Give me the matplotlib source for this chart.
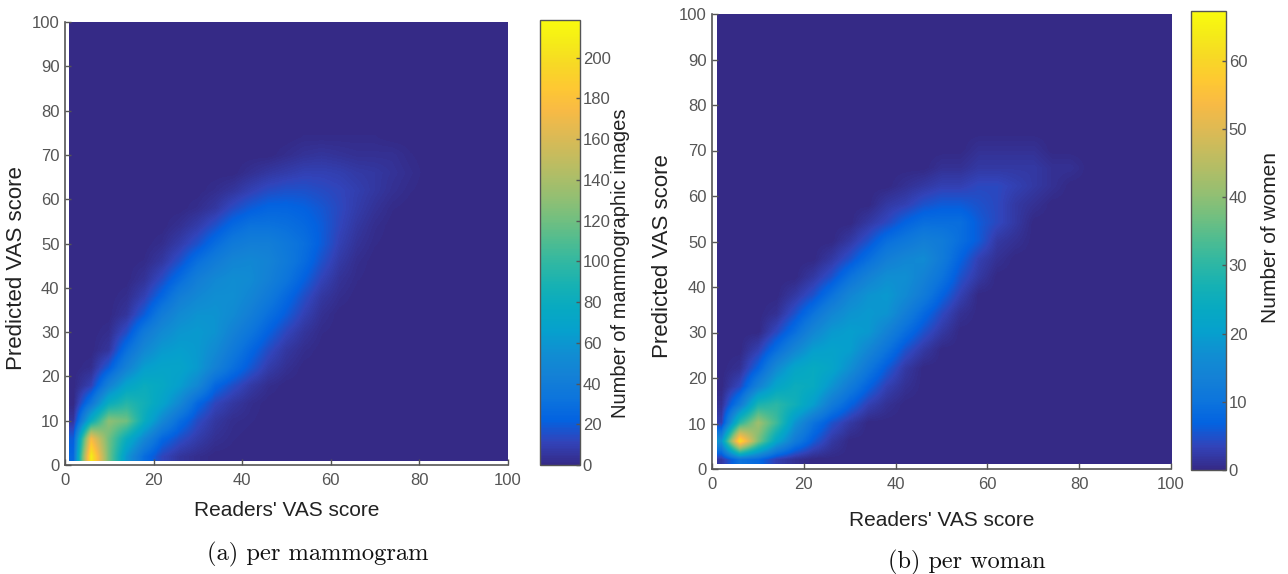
import numpy as np
import matplotlib
matplotlib.use('Agg')
import matplotlib.pyplot as plt
from matplotlib.colors import LinearSegmentedColormap
from matplotlib.patches import Rectangle

# counts, one row per 4 VAS units, top row first
grid_mammogram = [
    [0]*25, [0]*25, [0]*25, [0]*25, [0]*25, [0]*25,
    [0,0,0,0,0,0,0,0,0,0,0,0,0,1,1,1,1,1,0,0,0,0,0,0,0],
    [0,0,0,0,0,0,0,0,0,0,0,0,2,4,5,4,3,3,3,1,0,0,0,0,0],
    [0,0,0,0,0,0,0,0,0,0,3,6,8,10,10,9,7,6,4,2,0,0,0,0,0],
    [0,0,0,0,0,0,0,0,2,5,10,14,16,16,14,12,9,6,3,1,0,0,0,0,0],
    [0,0,0,0,0,0,0,2,6,14,20,24,24,22,18,13,8,4,1,0,0,0,0,0,0],
    [0,0,0,0,0,0,3,8,16,26,32,32,30,26,20,12,6,2,0,0,0,0,0,0,0],
    [0,0,0,0,0,2,8,16,28,38,42,42,36,30,20,10,4,1,0,0,0,0,0,0,0],
    [0,0,0,0,1,6,16,30,40,48,50,46,38,28,16,7,2,0,0,0,0,0,0,0,0],
    [0,0,0,0,4,14,28,42,50,54,52,44,34,22,11,4,1,0,0,0,0,0,0,0,0],
    [0,0,0,2,10,25,42,50,55,55,48,38,26,15,6,2,0,0,0,0,0,0,0,0,0],
    [0,0,0,5,20,40,52,58,58,52,42,30,20,10,3,0,0,0,0,0,0,0,0,0,0],
    [0,0,2,15,38,52,60,62,58,45,34,22,12,5,1,0,0,0,0,0,0,0,0,0,0],
    [0,0,5,30,50,62,65,62,52,38,25,14,6,2,0,0,0,0,0,0,0,0,0,0,0],
    [0,2,20,45,65,70,70,62,45,30,18,8,3,0,0,0,0,0,0,0,0,0,0,0,0],
    [0,10,45,70,80,75,65,50,25,15,7,2,0,0,0,0,0,0,0,0,0,0,0,0,0],
    [0,35,80,95,85,70,50,25,12,6,2,0,0,0,0,0,0,0,0,0,0,0,0,0,0],
    [5,80,130,120,80,50,28,14,6,2,1,0,0,0,0,0,0,0,0,0,0,0,0,0,0],
    [20,175,120,80,50,25,15,8,3,1,0,0,0,0,0,0,0,0,0,0,0,0,0,0,0],
    [25,210,120,60,28,12,5,2,0,0,0,0,0,0,0,0,0,0,0,0,0,0,0,0,0],
]
grid_woman = [
    [0]*25, [0]*25, [0]*25, [0]*25, [0]*25, [0]*25,
    [0]*25,
    [0,0,0,0,0,0,0,0,0,0,0,0,0,0,1,1,1,1,0,0,0,0,0,0,0],
    [0,0,0,0,0,0,0,0,0,0,0,0,1,1,2,2,2,2,1,1,0,0,0,0,0],
    [0,0,0,0,0,0,0,0,0,0,1,2,3,3,4,4,3,2,1,0,0,0,0,0,0],
    [0,0,0,0,0,0,0,0,0,2,3,5,6,6,5,4,2,1,0,0,0,0,0,0,0],
    [0,0,0,0,0,0,0,0,2,4,7,9,9,9,6,4,2,0,0,0,0,0,0,0,0],
    [0,0,0,0,0,0,0,2,5,9,11,13,12,9,6,2,1,0,0,0,0,0,0,0,0],
    [0,0,0,0,0,0,2,5,9,13,15,16,12,7,3,1,0,0,0,0,0,0,0,0,0],
    [0,0,0,0,0,2,5,10,14,17,17,14,10,5,2,0,0,0,0,0,0,0,0,0,0],
    [0,0,0,0,2,5,10,15,18,19,16,12,7,3,0,0,0,0,0,0,0,0,0,0,0],
    [0,0,0,1,5,10,15,18,19,18,13,8,4,1,0,0,0,0,0,0,0,0,0,0,0],
    [0,0,0,4,9,15,19,20,19,14,9,5,2,0,0,0,0,0,0,0,0,0,0,0,0],
    [0,0,3,9,15,20,21,20,15,10,5,2,0,0,0,0,0,0,0,0,0,0,0,0,0],
    [0,1,7,16,22,24,22,17,11,6,2,0,0,0,0,0,0,0,0,0,0,0,0,0,0],
    [0,4,14,22,25,24,18,12,7,3,1,0,0,0,0,0,0,0,0,0,0,0,0,0,0],
    [1,12,28,30,26,20,12,7,3,1,0,0,0,0,0,0,0,0,0,0,0,0,0,0,0],
    [3,30,42,32,18,10,5,2,0,0,0,0,0,0,0,0,0,0,0,0,0,0,0,0,0],
    [18,62,38,22,12,6,2,0,0,0,0,0,0,0,0,0,0,0,0,0,0,0,0,0,0],
    [2,10,8,3,1,0,0,0,0,0,0,0,0,0,0,0,0,0,0,0,0,0,0,0,0],
]

axis_ticks = [0, 20, 40, 60, 80, 100]
y_ticks = [0, 10, 20, 30, 40, 50, 60, 70, 80, 90, 100]
cbar_ticks_a = [0, 20, 40, 60, 80, 100, 120, 140, 160, 180, 200]
cbar_ticks_b = [0, 10, 20, 30, 40, 50, 60]
cbar_max_a = 218.5
cbar_max_b = 67.3

parula_colors = [
    (0.2081, 0.1663, 0.5292), (0.1959, 0.2645, 0.7279), (0.0117, 0.3875, 0.8820),
    (0.0498, 0.4586, 0.8641), (0.0779, 0.5040, 0.8384), (0.0641, 0.5570, 0.8240),
    (0.0239, 0.6287, 0.8038), (0.0267, 0.6642, 0.7607), (0.0843, 0.6928, 0.7062),
    (0.1801, 0.7177, 0.6424), (0.3022, 0.7376, 0.5712), (0.4420, 0.7481, 0.5033),
    (0.5709, 0.7485, 0.4494), (0.6834, 0.7435, 0.4044), (0.7858, 0.7356, 0.3633),
    (0.8824, 0.7274, 0.3217), (0.9739, 0.7314, 0.2666), (0.9955, 0.7861, 0.1967),
    (0.9697, 0.8481, 0.1475), (0.9598, 0.9218, 0.0948), (0.9763, 0.9831, 0.0538),
]
parula = LinearSegmentedColormap.from_list('parula', parula_colors)

W, H = 1288, 574
GRAY = '#555555'
DARK = '#222222'
plt.rcParams['font.family'] = ['Liberation Sans', 'DejaVu Sans']


def box(x0, y0, x1, y1):
    """pixel box (from top left) to figure fractions"""
    return [x0/W, 1 - y1/H, (x1 - x0)/W, (y1 - y0)/H]


def panel(fig, grid, ax_box, cb_box, vmax, cticks, clabel, clab_size,
          xlab_y, ylab_xy, clab_xy):
    ax = fig.add_axes(box(*ax_box))
    im = ax.imshow(np.array(grid, dtype=float), cmap=parula, vmin=0, vmax=vmax,
                   extent=(0, 100, 0, 100), aspect='auto', interpolation='bilinear')
    # the first bins of the histogram are empty: white strip along both axes
    im.set_clip_path(Rectangle((1, 1), 99, 99, transform=ax.transData))
    ax.set_xlim(0, 100)
    ax.set_ylim(0, 100)
    ax.set_xticks(axis_ticks)
    ax.set_yticks(y_ticks)
    ax.spines['top'].set_visible(False)
    ax.spines['right'].set_visible(False)
    for s in ['left', 'bottom']:
        ax.spines[s].set_color(GRAY)
        ax.spines[s].set_linewidth(1.2)
    ax.tick_params(direction='in', length=4, width=1, color=GRAY, labelcolor=GRAY,
                   labelsize=12)
    ax.tick_params(axis='x', pad=6)
    ax.tick_params(axis='y', pad=4)
    fig.text((ax_box[0] + ax_box[2])/2/W, 1 - xlab_y/H, "Readers' VAS score",
             fontsize=15, color=DARK, ha='center', va='center')
    fig.text(ylab_xy[0]/W, 1 - ylab_xy[1]/H, 'Predicted VAS score',
             fontsize=16, color=DARK, rotation=90, ha='center', va='center')

    cax = fig.add_axes(box(*cb_box))
    cb = fig.colorbar(im, cax=cax)
    cb.set_ticks(cticks)
    cb.outline.set_edgecolor(GRAY)
    cb.outline.set_linewidth(1.0)
    cax.tick_params(direction='in', length=3, width=1, color=GRAY, labelcolor=GRAY,
                    labelsize=12, pad=2)
    fig.text(clab_xy[0]/W, 1 - clab_xy[1]/H, clabel, fontsize=clab_size,
             color=DARK, rotation=90, ha='center', va='center')


fig = plt.figure(figsize=(W/100, H/100), dpi=100)
panel(fig, grid_mammogram, (65, 22, 508, 465), (540, 20, 580, 465), cbar_max_a,
      cbar_ticks_a, 'Number of mammographic images', 14.5, 511, (17, 268), (621, 263))
panel(fig, grid_woman, (712, 14, 1171, 469), (1191, 11, 1226, 470), cbar_max_b,
      cbar_ticks_b, 'Number of women', 15, 521, (663, 256), (1271, 238))

fig.text(318/W, 1 - 554/H, '(a) per mammogram', family=['cmr10', 'DejaVu Serif'],
         fontsize=17.7, color='#111111', ha='center', va='center')
fig.text(967/W, 1 - 562/H, '(b) per woman', family=['cmr10', 'DejaVu Serif'],
         fontsize=17.5, color='#111111', ha='center', va='center')

fig.savefig('out.png', dpi=100)
